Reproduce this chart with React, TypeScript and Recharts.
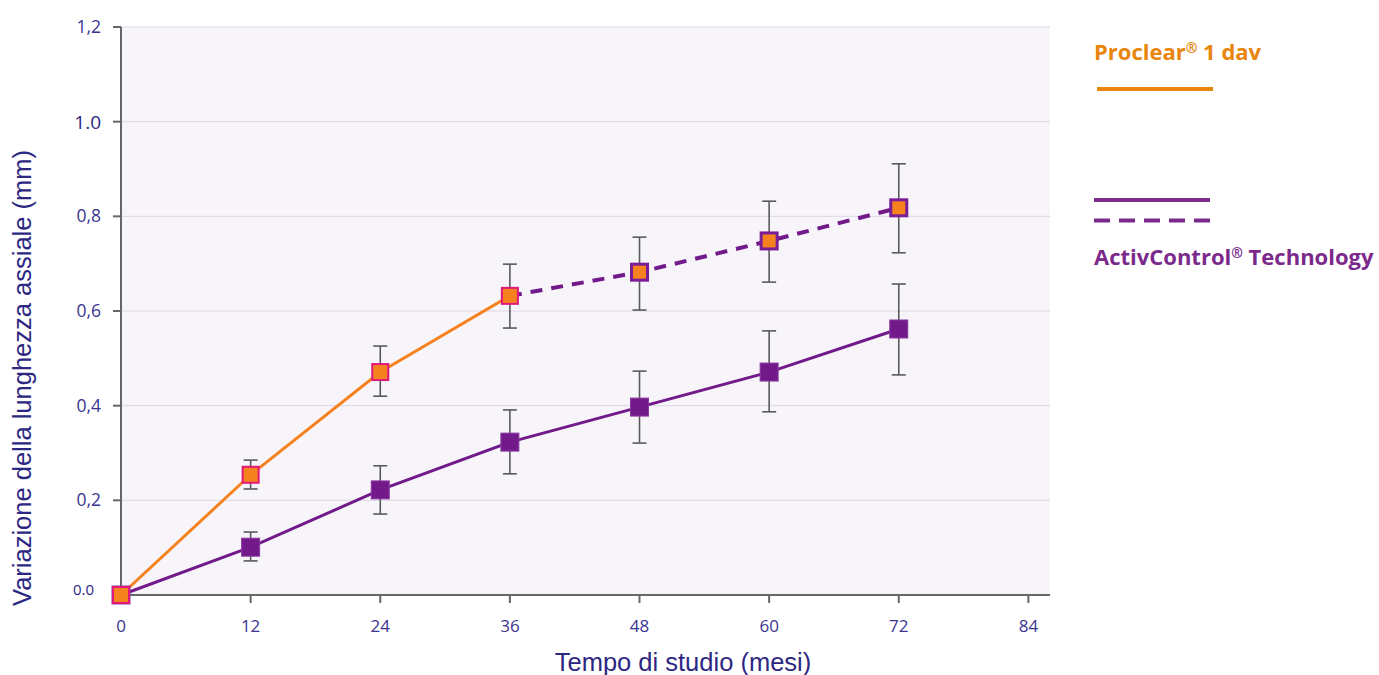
import React from "react"
import {
  CartesianGrid,
  ErrorBar,
  Label,
  Line,
  LineChart,
  XAxis,
  YAxis,
} from "recharts"

// months on the x axis
const months = [0, 12, 24, 36, 48, 60, 72]
const xTicks = [0, 12, 24, 36, 48, 60, 72, 84]
const yTicks = [0, 0.2, 0.4, 0.6, 0.8, 1.0, 1.2]
const yTickLabels = ["0.0", "0,2", "0,4", "0,6", "0,8", "1.0", "1,2"]

// Proclear 1 day (control) – measured to 36 months
const proclearMean = [0, 0.254, 0.471, 0.632, null, null, null]
const proclearErrMinus = [null, 0.03, 0.051, 0.068, null, null, null]
const proclearErrPlus = [null, 0.031, 0.055, 0.067, null, null, null]

// ActivControl, treated from start
const activMean = [0, 0.101, 0.222, 0.323, 0.397, 0.471, 0.562]
const activErrMinus = [null, 0.029, 0.051, 0.067, 0.076, 0.084, 0.097]
const activErrPlus = [null, 0.032, 0.051, 0.068, 0.076, 0.087, 0.095]

// ActivControl after switching from Proclear at 36 months
const switchMean = [null, null, null, 0.632, 0.682, 0.748, 0.818]
const switchErrMinus = [null, null, null, null, 0.08, 0.087, 0.095]
const switchErrPlus = [null, null, null, null, 0.074, 0.084, 0.093]

const ORANGE = "#f5821f"
const PINK = "#e0187a"
const PURPLE = "#721a8a"
const AXIS_TEXT = "#3b3491"
const TITLE_TEXT = "#2c2782"

const pair = (m: number | null, p: number | null) =>
  m == null || p == null ? null : [m, p]

const data = months.map((month, i) => ({
  month,
  proclear: proclearMean[i],
  proclearErr: pair(proclearErrMinus[i], proclearErrPlus[i]),
  activ: activMean[i],
  activErr: pair(activErrMinus[i], activErrPlus[i]),
  switched: switchMean[i],
  switchedErr: pair(switchErrMinus[i], switchErrPlus[i]),
}))

const squareDot = (fill: string, stroke: string, sw: number, size = 18, skip?: (i: number) => boolean) =>
  (props: any) => {
    const { cx, cy, index } = props
    if (cx == null || cy == null || (skip && skip(index))) return <g key={`d-${index}`} />
    return (
      <rect
        key={`d-${index}`}
        x={cx - size / 2 + sw / 2}
        y={cy - size / 2 + sw / 2}
        width={size - sw}
        height={size - sw}
        fill={fill}
        stroke={stroke}
        strokeWidth={sw}
      />
    )
  }

const YTick = ({ x, y, payload }: any) => {
  const idx = yTicks.findIndex((t) => Math.abs(t - payload.value) < 1e-6)
  const text = yTickLabels[idx]
  let size = 17.5
  let dy = 6
  let dx = -10
  let fill = AXIS_TEXT
  if (text === "1.0") {
    size = 19
    dy = 7
    fill = TITLE_TEXT
  }
  if (text === "0.0") {
    size = 15
    dy = 0
    dx = -17
    fill = TITLE_TEXT
  }
  return (
    <text x={x + dx} y={y + dy} textAnchor="end" fontSize={size} fill={fill} fontFamily="'Open Sans', sans-serif">
      {text}
    </text>
  )
}

const XTick = ({ x, y, payload }: any) => (
  <text x={x} y={y + 27} textAnchor="middle" fontSize={17} fill={AXIS_TEXT} fontFamily="'Open Sans', sans-serif">
    {payload.value}
  </text>
)

export default function App() {
  return (
    <div style={{ position: "absolute", left: 0, top: 0, width: 1379, height: 675, background: "#fff" }}>
      <LineChart
        width={1379}
        height={675}
        data={data}
        margin={{ top: 27, right: 329, bottom: 0, left: 0 }}
      >
        <CartesianGrid
          vertical={false}
          stroke="#ddd6e8"
          strokeWidth={1}
          fill="#f7f5fa"
        />
        <XAxis
          dataKey="month"
          type="number"
          domain={[0, 86]}
          ticks={xTicks}
          height={80}
          stroke="#666"
          strokeWidth={2}
          tickSize={8}
          tick={<XTick />}
          interval={0}
        >
          <Label
            content={() => (
              <text x={683} y={671} textAnchor="middle" fontSize={25.5} fill={TITLE_TEXT} fontFamily="'Liberation Sans', Arial, sans-serif">
                Tempo di studio (mesi)
              </text>
            )}
          />
        </XAxis>
        <YAxis
          type="number"
          domain={[0, 1.2]}
          ticks={yTicks}
          width={121}
          stroke="#666"
          strokeWidth={2}
          tickSize={8}
          tick={<YTick />}
          interval={0}
        >
          <Label
            content={() => (
              <text
                x={31}
                y={378}
                transform="rotate(-90 31 378)"
                textAnchor="middle"
                fontSize={25.5}
                fill={TITLE_TEXT}
                fontFamily="'Liberation Sans', Arial, sans-serif"
              >
                Variazione della lunghezza assiale (mm)
              </text>
            )}
          />
        </YAxis>

        <Line
          dataKey="switched"
          stroke={PURPLE}
          strokeWidth={4}
          strokeDasharray="12 9"
          isAnimationActive={false}
          connectNulls={false}
          dot={squareDot(ORANGE, "#7a1d96", 3, 19, (i) => switchErrMinus[i] == null)}
          activeDot={false}
        >
          <ErrorBar dataKey="switchedErr" width={7} stroke="#5a5a5a" strokeWidth={1.6} direction="y" />
        </Line>
        <Line
          dataKey="activ"
          stroke={PURPLE}
          strokeWidth={3}
          isAnimationActive={false}
          dot={squareDot(PURPLE, "#8a3aa0", 1, 19)}
          activeDot={false}
        >
          <ErrorBar dataKey="activErr" width={7} stroke="#5a5a5a" strokeWidth={1.6} direction="y" />
        </Line>
        <Line
          dataKey="proclear"
          stroke={ORANGE}
          strokeWidth={3}
          isAnimationActive={false}
          connectNulls={false}
          dot={squareDot(ORANGE, PINK, 2, 18)}
          activeDot={false}
        >
          <ErrorBar dataKey="proclearErr" width={7} stroke="#5a5a5a" strokeWidth={1.6} direction="y" />
        </Line>
      </LineChart>

      <div style={{ position: "absolute", left: 1094, top: 32, fontFamily: "'Open Sans', sans-serif", fontWeight: 700, fontSize: 22, color: "#e8850c", whiteSpace: "nowrap", lineHeight: "32px" }}>
        Proclear<sup style={{ fontSize: 14, verticalAlign: 7 }}>®</sup> 1 dav
      </div>
      <div style={{ position: "absolute", left: 1097, top: 87, width: 116, height: 4, background: "#e8850c" }} />
      <div style={{ position: "absolute", left: 1094, top: 198, width: 116, height: 4, background: "#7b2a8c" }} />
      <svg style={{ position: "absolute", left: 1094, top: 218 }} width={118} height={5}>
        <line x1={0} y1={2.5} x2={116} y2={2.5} stroke="#7b2a8c" strokeWidth={4} strokeDasharray="16 9" />
      </svg>
      <div style={{ position: "absolute", left: 1094, top: 237, fontFamily: "'Open Sans', sans-serif", fontWeight: 700, fontSize: 22, color: "#7b2a8c", whiteSpace: "nowrap", lineHeight: "32px" }}>
        ActivControl<sup style={{ fontSize: 14, verticalAlign: 7 }}>®</sup> Technology
      </div>
    </div>
  )
}
